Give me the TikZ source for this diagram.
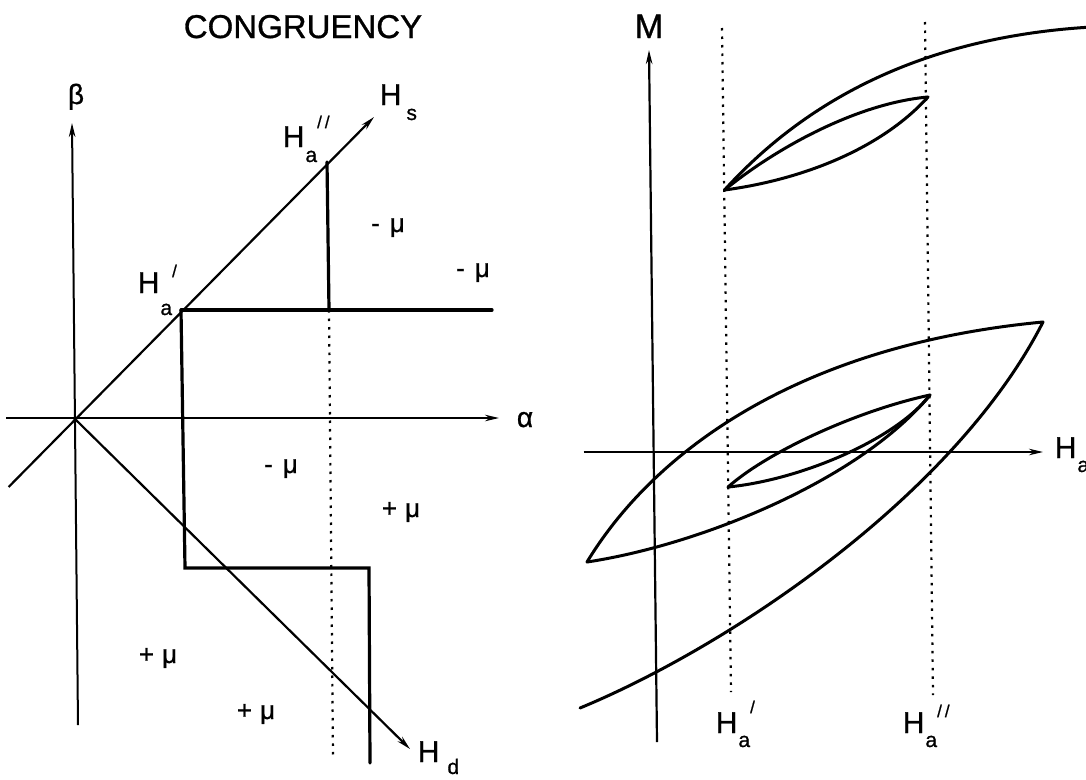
\documentclass[tikz,border=0pt]{standalone}
\usepackage{fontspec}
\setmainfont{Liberation Sans}[FakeBold=0.9]
\usetikzlibrary{arrows.meta}
\newcommand{\subsz}{\fontsize{21}{21}\selectfont}
\newcommand{\primsz}{\fontsize{17}{17}\selectfont}
% #1 subscript, #2 drop, #3 primes, #4 raise, #5 kern
\newcommand{\Hlab}[5]{H\kern#5pt\raisebox{-#2pt}{\subsz #1}\raisebox{#4pt}{\primsz #3}}
\newcommand{\pp}{/\kern3pt/}
\tikzset{
  axis/.style={line width=2pt, -{Stealth[length=14pt,width=6.5pt]}},
  diag/.style={line width=2.2pt},
  heavy/.style={line width=3.2pt, line cap=round, line join=miter},
  dotline/.style={line width=2.2pt, dash pattern=on 2.5pt off 6pt},
  curve/.style={line width=3pt, line cap=round, line join=round},
  lab/.style={inner sep=0pt, font=\fontsize{30}{30}\selectfont, anchor=base west},
  mulab/.style={inner sep=0pt, font=\fontsize{26}{26}\selectfont, anchor=base},
  greek/.style={inner sep=0pt, font=\fontsize{28}{28}\selectfont, anchor=base},
}
\begin{document}
\begin{tikzpicture}[x=1pt,y=-1pt]
\useasboundingbox[fill=white] (0,0) rectangle (1086,779);

% ---------------- left panel ----------------
\node[inner sep=0pt, anchor=base, font=\fontsize{33}{33}\selectfont] (title) at (303,38) {CONGRUENCY};

\coordinate (O) at (74,418);
\coordinate (bTop) at (72,123);
\coordinate (bBot) at (78,725);
\coordinate (aL) at (6,418);
\coordinate (aR) at (499,418);
\coordinate (sL) at (8.6,487);
\coordinate (sR) at (374,117);
\coordinate (dR) at (410,749);
\coordinate (P1) at (181,310);
\coordinate (P2) at (327,162);
\coordinate (P2b) at (329,310);
\coordinate (hR) at (492,310);
\coordinate (Q1) at (185,568);
\coordinate (Q2) at (369,568);
\coordinate (Q3) at (370,763);
\coordinate (dotB) at (333,756);

\draw[axis] (bBot) -- (bTop);
\draw[axis] (aL) -- (aR);
\draw[diag, -{Stealth[length=14pt,width=6.5pt]}] (sL) -- (sR);
\draw[diag, -{Stealth[length=14pt,width=6.5pt]}] (O) -- (dR);
\draw[dotline] (P2b) -- (dotB);
\draw[heavy] (P1) -- (hR);
\draw[heavy] (P2) -- (P2b);
\draw[heavy] (P1) -- (Q1) -- (Q2) -- (Q3);

\node[greek] (beta) at (76,104) {β};
\node[greek] (alpha) at (525,427) {α};
\node[lab] (Hs) at (379.6,105) {\Hlab{s}{15}{}{0}{5}};
\node[lab] (Hd) at (417.6,762) {\Hlab{d}{12}{}{0}{8}};
\node[lab] (Ha2) at (282.6,147) {\Hlab{a}{15}{\pp}{19}{1}};
\node[lab] (Ha1) at (137.6,293) {\Hlab{a}{22}{/}{16}{1}};

\node[mulab] (m1) at (388,232) {-\hspace{10pt}μ};
\node[mulab] (m2) at (473,277) {-\hspace{10pt}μ};
\node[mulab] (m3) at (281,473) {-\hspace{10pt}μ};
\node[mulab] (p1) at (401,517) {+\hspace{8pt}μ};
\node[mulab] (p2) at (158,663) {+\hspace{8pt}μ};
\node[mulab] (p3) at (256,719) {+\hspace{8pt}μ};

% ---------------- right panel ----------------
\coordinate (mBot) at (657,742);
\coordinate (mTop) at (649,50);
\coordinate (hL) at (583.5,452);
\coordinate (hAR) at (1043,452);
\coordinate (d1T) at (722,28);
\coordinate (d1B) at (731,692);
\coordinate (d2T) at (925,22);
\coordinate (d2B) at (933,695);

\draw[dotline] (d1T) -- (d1B);
\draw[dotline] (d2T) -- (d2B);
\draw[axis, line width=2.2pt] (mBot) -- (mTop);
\draw[axis] (hL) -- (hAR);

\node[inner sep=0pt, anchor=base, font=\fontsize{34}{34}\selectfont] (M) at (649,38) {M};
\node[lab] (Hax) at (1054.6,458) {\Hlab{a}{14}{}{0}{1}};
\node[lab] (Hr1) at (715.6,733) {\Hlab{a}{14}{/}{20}{1}};
\node[lab] (Hr2) at (902.6,733) {\Hlab{a}{14}{\pp}{16}{1}};

\coordinate (A) at (724.5,190);
\coordinate (B) at (928,97);
\coordinate (C) at (587,562);
\coordinate (D) at (1043,322);
\coordinate (E) at (930,395);
\coordinate (F) at (728,487);
\coordinate (T) at (1092,27);
\coordinate (G) at (580,708);

% upper group
\draw[curve] (A) .. controls (790,118) and (900,38) .. (T);
\draw[curve] (A) .. controls (780,145) and (860,103) .. (B);
\draw[curve] (A) .. controls (800,180) and (880,150) .. (B);

% lower group
\draw[curve] (C) .. controls (655,450) and (800,345) .. (D);
\draw[curve] (D) .. controls (955,495) and (730,646) .. (G);
\draw[curve] (C) .. controls (700,545) and (860,480) .. (E);
\draw[curve] (F) .. controls (770,450) and (860,410) .. (E);
\draw[curve] (F) .. controls (800,480) and (895,440) .. (E);
\end{tikzpicture}
\end{document}
